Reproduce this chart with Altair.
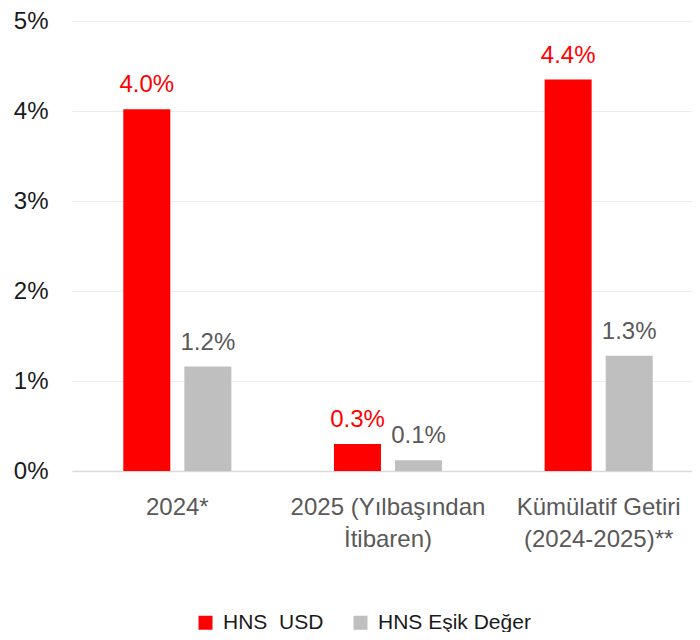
import altair as alt
import pandas as pd

categories = ["2024*", "2025 (Yılbaşından\nİtibaren)", "Kümülatif Getiri\n(2024-2025)**"]
series = ["HNS_USD", "HNS Eşik Değer"]
usd_values = [4.02, 0.30, 4.35]
esik_values = [1.16, 0.12, 1.28]
usd_labels = ["4.0%", "0.3%", "4.4%"]
esik_labels = ["1.2%", "0.1%", "1.3%"]

rows = []
for i, c in enumerate(categories):
    rows.append({"cat": c, "series": series[0], "value": usd_values[i], "label": usd_labels[i]})
    rows.append({"cat": c, "series": series[1], "value": esik_values[i], "label": esik_labels[i]})
df = pd.DataFrame(rows)

FONT = "Liberation Sans"

x = alt.X("cat:N", sort=categories, title=None,
          scale=alt.Scale(paddingInner=0.487, paddingOuter=0.2435, range=[0, 632]),
          axis=alt.Axis(labelExpr="split(datum.label, '\\n')", labelAngle=0,
                        labelFontSize=24, labelColor="#595959", labelFont=FONT,
                        labelPadding=24, labelLineHeight=32, ticks=False, labelLimit=400,
                        domainColor="#d9d9d9", domainWidth=1.5, labelBaseline="top"))
y = alt.Y("value:Q", title=None,
          scale=alt.Scale(domain=[0, 5], nice=False),
          axis=alt.Axis(values=[0, 1, 2, 3, 4, 5], labelExpr="datum.value + '%'",
                        labelFontSize=24, labelColor="#1a1a1a", labelFont=FONT,
                        labelPadding=24, ticks=False, domain=False,
                        gridColor="#ececec", gridWidth=1))
xo = alt.XOffset("series:N", sort=series,
                 scale=alt.Scale(paddingInner=0.23, paddingOuter=0))
color = alt.Color("series:N", sort=series,
                  scale=alt.Scale(domain=series, range=["#ff0000", "#bfbfbf"]),
                  legend=alt.Legend(title=None, orient="none", direction="horizontal",
                                    legendX=123, legendY=591, symbolType="square",
                                    symbolSize=196, symbolStrokeWidth=0,
                                    labelFontSize=21, labelFont=FONT, labelColor="#1a1a1a",
                                    columnPadding=26, labelOffset=7))

base = alt.Chart(df)
bars = base.mark_bar().encode(x=x, y=y, xOffset=xo, color=color)
texts = base.mark_text(fontSize=24, font=FONT, baseline="alphabetic", dy=-17).encode(
    x=x, y=y, xOffset=xo, text="label:N",
    color=alt.Color("series:N", sort=series,
                    scale=alt.Scale(domain=series, range=["#ff0000", "#595959"]),
                    legend=None))

chart = alt.layer(bars, texts).resolve_scale(color="independent").properties(
    width=620, height=450,
    padding={"left": 64, "top": 13, "right": 0, "bottom": 161},
    autosize=alt.AutoSizeParams(type="none"),
).configure_view(stroke=None)

chart.save("out.html", embed_options={"renderer": "svg", "actions": False})
